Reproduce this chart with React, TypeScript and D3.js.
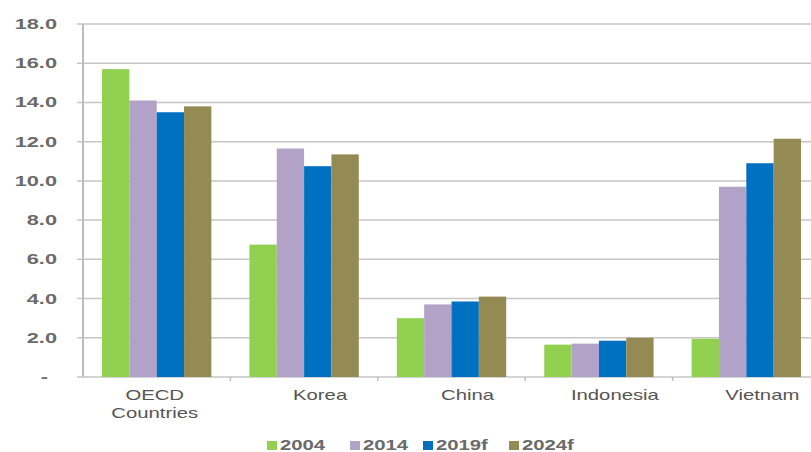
import React from "react";
import * as d3 from "d3";

const categories = [["OECD", "Countries"], ["Korea"], ["China"], ["Indonesia"], ["Vietnam"]];
const seriesNames = ["2004", "2014", "2019f", "2024f"];
const colors = ["#92D050", "#B3A2C7", "#0070C0", "#948A54"];
const v2004 = [15.7, 6.75, 3.0, 1.65, 1.95];
const v2014 = [14.1, 11.65, 3.7, 1.7, 9.7];
const v2019 = [13.5, 10.75, 3.85, 1.85, 10.9];
const v2024 = [13.8, 11.35, 4.1, 2.0, 12.15];
const yTicks = [0, 2, 4, 6, 8, 10, 12, 14, 16, 18];

const seriesValues = [v2004, v2014, v2019, v2024];

const W = 811, H = 452;
const left = 83, right = 820, top = 24, bottom = 377;
const SX = 1.45;

export default function App() {
  const catKeys = categories.map((c) => c.join(" "));
  const x0 = d3.scaleBand<string>().domain(catKeys).range([left, right]).padding(0);
  const bw = x0.bandwidth();
  const x1 = d3.scaleBand<string>().domain(seriesNames).range([bw * 0.129, bw * 0.871]).padding(0);
  const y = d3.scaleLinear().domain([0, 18]).range([bottom, top]);
  const fmt = d3.format(".1f");
  const tickFont = { fontFamily: "Liberation Sans, Arial, sans-serif", fontWeight: 700, fontSize: 15, fill: "#6a6a6a" } as const;
  const catFont = { fontFamily: "Liberation Sans, Arial, sans-serif", fontSize: 14, fill: "#555" } as const;

  const legendX = [267, 350, 423, 509];

  return (
    <svg width={W} height={H} style={{ position: "absolute", left: 0, top: 0, background: "#fff" }}>
      {/* gridlines */}
      {yTicks.map((t) => (
        <line key={"g" + t} x1={left - 6} x2={W} y1={y(t)} y2={y(t)} stroke="#c6c6c6" strokeWidth={1.5} />
      ))}
      {/* y axis line */}
      <line x1={left} x2={left} y1={top} y2={bottom} stroke="#bdbdbd" strokeWidth={2} />
      {/* category ticks */}
      {catKeys.slice(1).map((k) => (
        <line key={"ct" + k} x1={x0(k)!} x2={x0(k)!} y1={bottom} y2={bottom + 4} stroke="#bdbdbd" strokeWidth={1.5} />
      ))}
      {/* y labels */}
      {yTicks.map((t) => (
        <text
          key={"yl" + t}
          transform={`translate(${t === 0 ? 48 : 57},${y(t) + 5}) scale(${SX},1)`}
          textAnchor="end"
          {...tickFont}
        >
          {t === 0 ? "-" : fmt(t)}
        </text>
      ))}
      {/* bars */}
      {catKeys.map((k, ci) =>
        seriesNames.map((s, si) => {
          const v = seriesValues[si][ci];
          return (
            <rect
              key={k + s}
              x={x0(k)! + x1(s)!}
              y={y(v)}
              width={x1.bandwidth()}
              height={y(0) - y(v)}
              fill={colors[si]}
            />
          );
        })
      )}
      {/* category labels */}
      {categories.map((lines, ci) => {
        const cx = x0(catKeys[ci])! + bw / 2 + (lines.length > 1 ? -2 : 16);
        return lines.map((ln, li) => (
          <text
            key={"cl" + ci + li}
            transform={`translate(${cx},${400 + li * 18}) scale(${SX},1)`}
            textAnchor="middle"
            {...catFont}
          >
            {ln}
          </text>
        ));
      })}
      {/* legend */}
      {seriesNames.map((s, si) => (
        <g key={"lg" + s}>
          <rect x={legendX[si]} y={441} width={10} height={9} fill={colors[si]} />
          <text transform={`translate(${legendX[si] + 13},${450}) scale(${SX},1)`} {...tickFont} fontSize={14}>
            {s}
          </text>
        </g>
      ))}
    </svg>
  );
}
